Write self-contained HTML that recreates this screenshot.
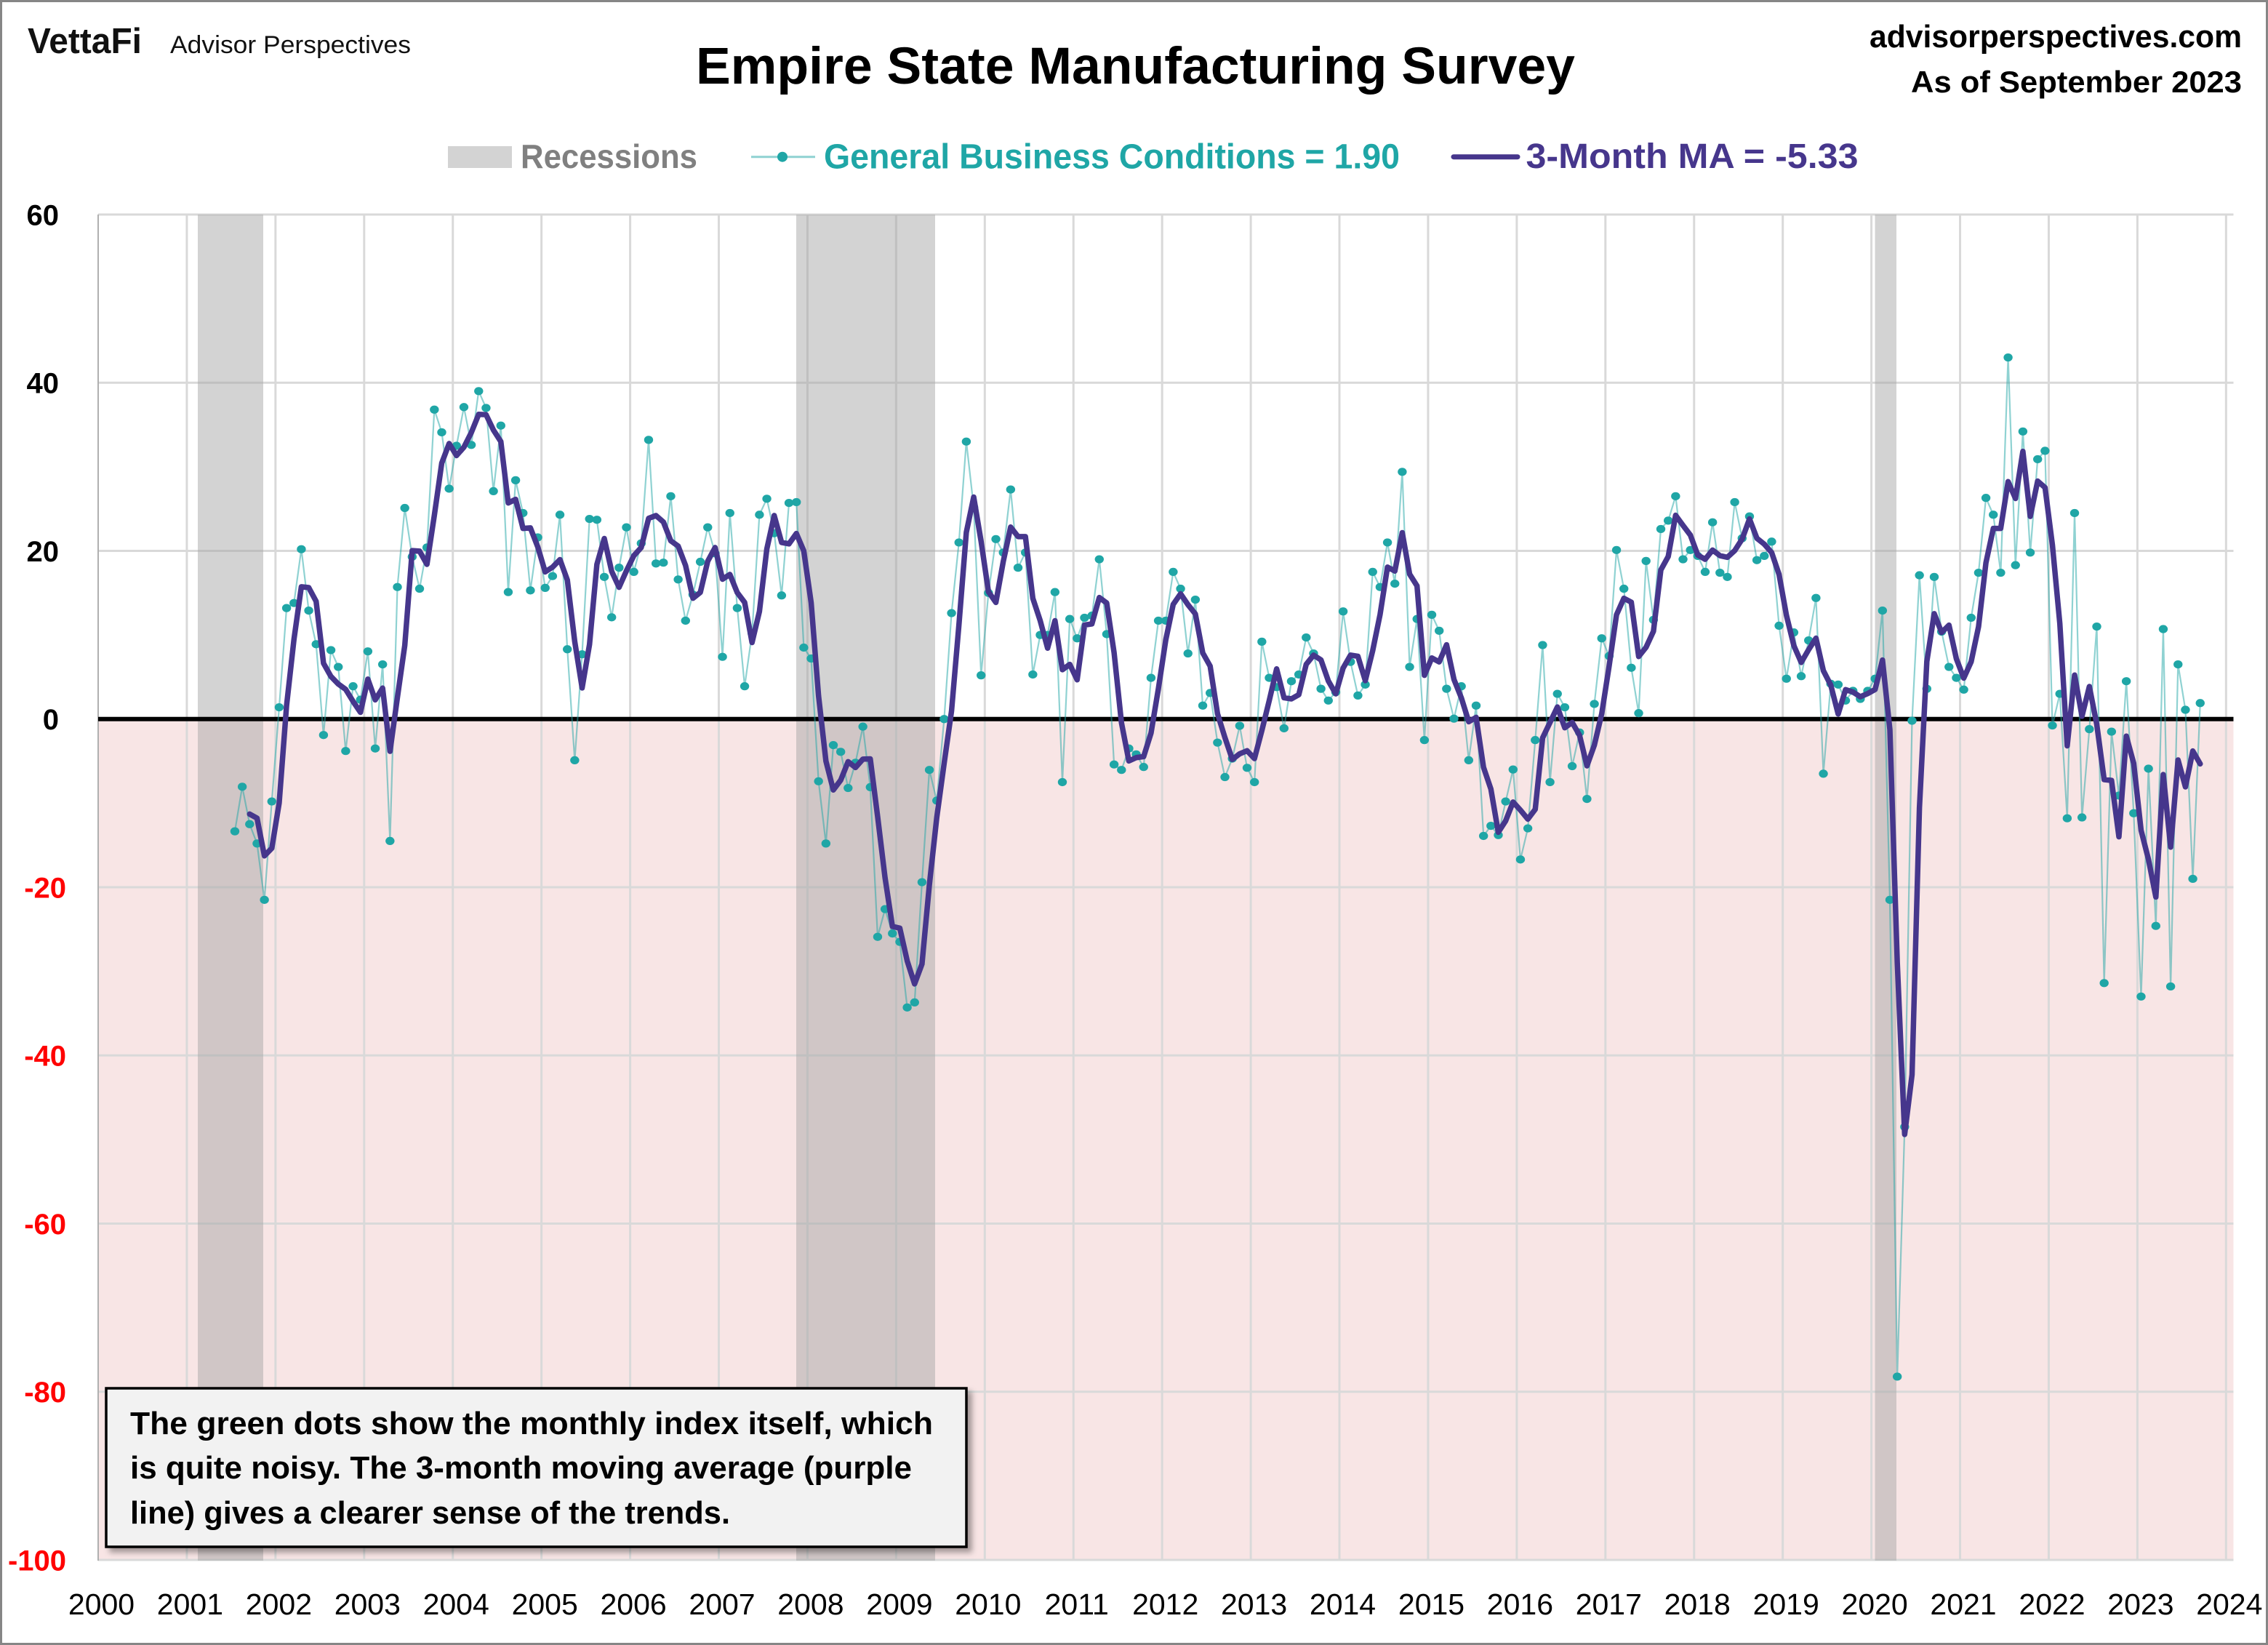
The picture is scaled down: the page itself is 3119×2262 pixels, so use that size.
<!DOCTYPE html>
<html>
<head>
<meta charset="utf-8">
<style>
  html,body{margin:0;padding:0;background:#fff;}
  svg{display:block;}
  text{font-family:"Liberation Sans",Arial,sans-serif;}
</style>
</head>
<body>
<svg id="chart" xmlns="http://www.w3.org/2000/svg" width="3119" height="2262" viewBox="0 0 3119 2262">
  <defs>
    <filter id="shadow" x="-5%" y="-10%" width="115%" height="130%">
      <feDropShadow dx="6" dy="6" stdDeviation="4" flood-color="#000" flood-opacity="0.35"/>
    </filter>
  </defs>
  <rect x="1.5" y="1.5" width="3116" height="2259" fill="#ffffff" stroke="#868686" stroke-width="3"/>

  <!-- Header -->
  <text x="38" y="73" font-size="49" font-weight="bold" fill="#111" textLength="157" lengthAdjust="spacingAndGlyphs">VettaFi</text>
  <text x="234" y="73" font-size="34" fill="#111" textLength="331" lengthAdjust="spacingAndGlyphs">Advisor Perspectives</text>
  <text x="957" y="115" font-size="71" font-weight="bold" fill="#000" textLength="1209" lengthAdjust="spacingAndGlyphs">Empire State Manufacturing Survey</text>
  <text x="3083" y="65" font-size="44" font-weight="bold" fill="#000" text-anchor="end" textLength="512" lengthAdjust="spacingAndGlyphs">advisorperspectives.com</text>
  <text x="3083" y="127" font-size="42" font-weight="bold" fill="#000" text-anchor="end" textLength="455" lengthAdjust="spacingAndGlyphs">As of September 2023</text>

  <!-- Legend -->
  <rect x="616" y="201" width="88" height="30" fill="#d3d3d3"/>
  <text x="716" y="231" font-size="46" font-weight="bold" fill="#808080" textLength="243" lengthAdjust="spacingAndGlyphs">Recessions</text>
  <line x1="1033" y1="215.7" x2="1121" y2="215.7" stroke="#8fd2d2" stroke-width="3"/>
  <ellipse cx="1076" cy="215.7" rx="7" ry="7" fill="#1fa6a6"/>
  <text x="1133" y="231.7" font-size="48" font-weight="bold" fill="#1fa6a6" textLength="792" lengthAdjust="spacingAndGlyphs">General Business Conditions = 1.90</text>
  <line x1="1999" y1="215.7" x2="2087" y2="215.7" stroke="#46368c" stroke-width="7" stroke-linecap="round"/>
  <text x="2098.5" y="231.2" font-size="48" font-weight="bold" fill="#46368c" textLength="457" lengthAdjust="spacingAndGlyphs">3-Month MA = -5.33</text>

  <!-- Plot background -->
  <rect x="135" y="988.75" width="2936.5" height="1157.25" fill="#f8e5e5"/>
  <g id="grid" stroke="#d9d9d9" stroke-width="3"></g>
  <line x1="135" y1="295" x2="135" y2="2146" stroke="#b0b0b0" stroke-width="2"/>

  <!-- Recessions -->
  <g fill="rgba(167,167,167,0.5)">
    <rect x="272" y="295" width="90" height="1851"/>
    <rect x="1095" y="295" width="191" height="1851"/>
    <rect x="2578.5" y="295" width="29.5" height="1851"/>
  </g>

  <!-- Zero line -->
  <line x1="135" y1="988.75" x2="3071.5" y2="988.75" stroke="#000" stroke-width="6"/>

  <!-- Data -->
  <path id="gline" fill="none" stroke="#1fa6a6" stroke-opacity="0.5" stroke-width="2.2" stroke-linejoin="round"/>
  <g id="dots" fill="#1fa6a6"></g>
  <path id="maline" fill="none" stroke="#46368c" stroke-width="7.5" stroke-linejoin="round" stroke-linecap="round"/>

  <!-- Y axis labels -->
  <g font-size="40" font-weight="bold" text-anchor="end">
    <text x="81" y="309.3" fill="#000">60</text>
    <text x="81" y="540.6" fill="#000">40</text>
    <text x="81" y="771.8" fill="#000">20</text>
    <text x="81" y="1003.1" fill="#000">0</text>
    <text x="91" y="1234.3" fill="#ff0000">-20</text>
    <text x="91" y="1465.6" fill="#ff0000">-40</text>
    <text x="91" y="1696.8" fill="#ff0000">-60</text>
    <text x="91" y="1928.1" fill="#ff0000">-80</text>
    <text x="91" y="2159.3" fill="#ff0000">-100</text>
  </g>

  <!-- X axis labels -->
  <g font-size="41" fill="#000" text-anchor="middle">
    <text x="139.5" y="2220">2000</text>
    <text x="261.4" y="2220">2001</text>
    <text x="383.4" y="2220">2002</text>
    <text x="505.3" y="2220">2003</text>
    <text x="627.2" y="2220">2004</text>
    <text x="749.2" y="2220">2005</text>
    <text x="871.1" y="2220">2006</text>
    <text x="993.0" y="2220">2007</text>
    <text x="1114.9" y="2220">2008</text>
    <text x="1236.9" y="2220">2009</text>
    <text x="1358.8" y="2220">2010</text>
    <text x="1480.7" y="2220">2011</text>
    <text x="1602.7" y="2220">2012</text>
    <text x="1724.6" y="2220">2013</text>
    <text x="1846.5" y="2220">2014</text>
    <text x="1968.5" y="2220">2015</text>
    <text x="2090.4" y="2220">2016</text>
    <text x="2212.3" y="2220">2017</text>
    <text x="2334.2" y="2220">2018</text>
    <text x="2456.2" y="2220">2019</text>
    <text x="2578.1" y="2220">2020</text>
    <text x="2700.0" y="2220">2021</text>
    <text x="2822.0" y="2220">2022</text>
    <text x="2943.9" y="2220">2023</text>
    <text x="3065.8" y="2220">2024</text>
  </g>

  <!-- Annotation box -->
  <rect x="146" y="1909" width="1183" height="218" fill="#f2f2f2" stroke="#000" stroke-width="3.5" filter="url(#shadow)"/>
  <g font-size="44" font-weight="bold" fill="#000">
    <text x="179" y="1972" textLength="1104" lengthAdjust="spacingAndGlyphs">The green dots show the monthly  index itself, which</text>
    <text x="179" y="2033" textLength="1075" lengthAdjust="spacingAndGlyphs">is quite noisy. The 3-month moving average (purple</text>
    <text x="179" y="2095" textLength="825" lengthAdjust="spacingAndGlyphs">line) gives a clearer sense of the trends.</text>
  </g>
</svg>
<script>
(function(){
  var NS="http://www.w3.org/2000/svg";
  var X0=135, YR=121.93;
  function yv(v){return 988.75 - v*11.5625;}
  // grid
  var g=document.getElementById("grid");
  var vals=[60,40,20,-20,-40,-60,-80,-100];
  vals.forEach(function(v){
    var l=document.createElementNS(NS,"line");
    l.setAttribute("x1",135);l.setAttribute("x2",3071.5);
    l.setAttribute("y1",yv(v));l.setAttribute("y2",yv(v));
    g.appendChild(l);
  });
  for(var k=1;k<=24;k++){
    var x=X0+k*YR;
    var l=document.createElementNS(NS,"line");
    l.setAttribute("x1",x);l.setAttribute("x2",x);
    l.setAttribute("y1",295);l.setAttribute("y2",2146);
    g.appendChild(l);
  }
  var d=[
  -13.35,-8.05,-12.5,-14.8,-21.5,-9.8,
  1.4,13.2,13.8,20.2,12.9,8.9,-1.9,8.2,6.2,-3.8,3.9,2.3,
  8.05,-3.5,6.5,-14.5,15.7,25.1,19.3,15.5,20.4,36.8,34.1,27.4,
  32.5,37.1,32.6,39.0,37.0,27.1,34.9,15.1,28.4,24.5,15.3,21.6,
  15.6,17.0,24.3,8.3,-4.9,7.7,23.8,23.7,16.9,12.1,18.0,22.8,
  17.5,20.9,33.2,18.5,18.6,26.5,16.6,11.7,14.8,18.7,22.8,19.7,
  7.4,24.5,13.2,3.9,10.2,24.3,26.2,22.1,14.7,25.7,25.8,8.5,
  7.2,-7.4,-14.8,-3.1,-3.9,-8.2,-5.2,-0.9,-8.1,-25.9,-22.6,-25.5,
  -26.5,-34.3,-33.7,-19.4,-6.05,-9.7,0,12.6,21.0,33.0,25.2,5.2,
  15.0,21.4,19.8,27.3,18.0,19.8,5.3,10.0,10.0,15.1,-7.5,11.9,
  9.6,12.05,12.3,19.0,10.1,-5.4,-6.05,-3.5,-4.2,-5.7,4.9,11.7,
  11.7,17.5,15.5,7.8,14.2,1.6,3.1,-2.8,-6.9,-4.7,-0.8,-5.8,
  -7.5,9.2,4.9,3.8,-1.1,4.5,5.3,9.7,7.8,3.6,2.2,3.2,
  12.8,6.8,2.8,4.1,17.5,15.7,21.0,16.1,29.4,6.2,11.9,-2.5,
  12.4,10.5,3.6,0.05,3.9,-4.9,1.6,-13.9,-12.7,-13.8,-9.8,-6.0,
  -16.7,-13.0,-2.5,8.8,-7.5,3.0,1.4,-5.6,-1.6,-9.5,1.8,9.6,
  7.5,20.1,15.5,6.1,0.7,18.8,11.8,22.6,23.6,26.5,19.0,20.1,
  19.4,17.5,23.4,17.4,16.9,25.8,21.5,24.1,18.9,19.4,21.1,11.1,
  4.8,10.3,5.1,9.35,14.4,-6.5,4.2,4.1,2.2,3.35,2.4,3.35,
  4.8,12.9,-21.5,-78.2,-48.5,-0.2,17.1,3.6,16.9,10.4,6.2,4.9,
  3.5,12.05,17.4,26.3,24.3,17.4,43.0,18.3,34.2,19.8,30.9,31.9,
  -0.76,3.0,-11.8,24.5,-11.7,-1.2,11.0,-31.4,-1.5,-9.1,4.5,-11.2,
  -33.0,-5.9,-24.6,10.7,-31.8,6.5,1.1,-19.0,1.9
  ];
  function xi(i){return X0+(1+(6.5+i)/12)*YR;}
  var p="",m="";
  var dots=document.getElementById("dots");
  for(var i=0;i<d.length;i++){
    var x=xi(i).toFixed(2), y=yv(d[i]).toFixed(2);
    p+=(i?"L":"M")+x+" "+y;
    var c=document.createElementNS(NS,"ellipse");
    c.setAttribute("cx",x);c.setAttribute("cy",y);
    c.setAttribute("rx",6.2);c.setAttribute("ry",5.6);
    dots.appendChild(c);
    if(i>=2){
      var a=(d[i-2]+d[i-1]+d[i])/3;
      m+=(i>2?"L":"M")+x+" "+yv(a).toFixed(2);
    }
  }
  document.getElementById("gline").setAttribute("d",p);
  document.getElementById("maline").setAttribute("d",m);
})();
</script>
</body>
</html>
